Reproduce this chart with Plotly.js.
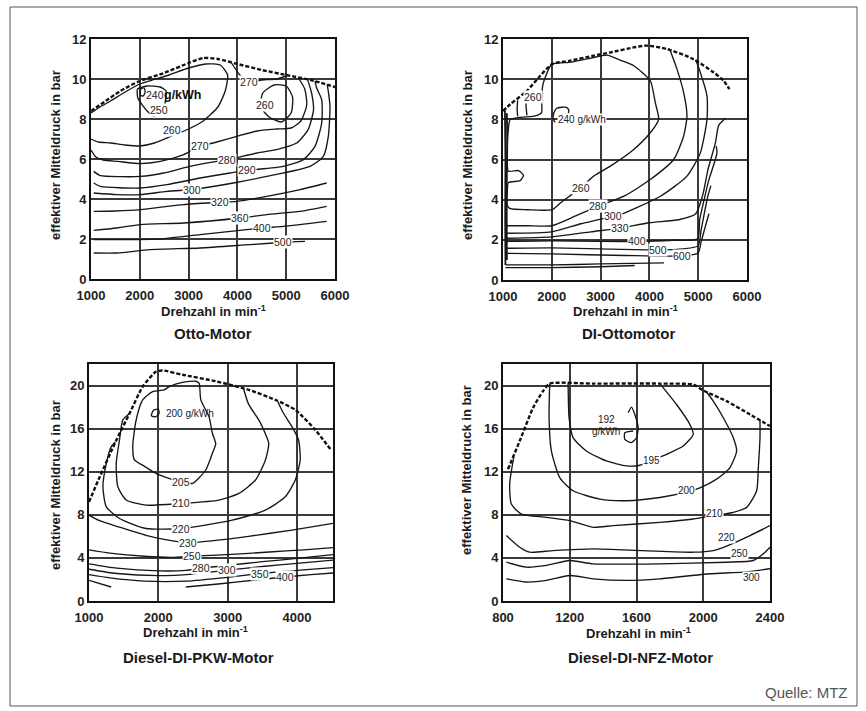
<!DOCTYPE html>
<html><head><meta charset="utf-8">
<script src="https://cdn.plot.ly/plotly-3.0.1.min.js"></script>
<style>html,body{margin:0;padding:0;background:#fff;}#chart{width:866px;height:711px;}</style>
</head><body><div id="chart"></div>
<script>
// ---------- DATA (rpm, bar) ----------
// Otto-Motor
const otto_full = [[1000,8.4],[1300,8.9],[1600,9.4],[2000,9.9],[2500,10.3],[3000,10.8],[3300,11.05],[3600,11.0],[4000,10.75],[4500,10.45],[5000,10.2],[5500,9.95],[6000,9.6]];
const otto_240 = [[2020,9.5],[2090,9.55],[2110,9.35],[2070,9.15],[2010,9.2],[2020,9.5]];
const otto_250 = [[1955,9.5],[1960,9.05],[2150,8.4],[2290,8.15],[2430,8.3],[2500,8.6],[2530,9.0],[2540,9.4],[2420,9.6],[2150,9.65],[1955,9.5]];
const otto_260 = [[1000,8.3],[1150,8.55],[1400,8.9],[1700,9.35],[2000,9.75],[2300,9.98],[2600,10.2],[3000,10.55],[3350,10.75],[3650,10.7],[3800,10.2],[3750,9.4],[3600,8.6],[3300,7.9],[3000,7.5],[2650,7.15],[2300,6.8],[2000,6.65],[1700,6.7],[1400,6.8],[1150,6.85],[1000,7.0]];
const otto_260b = [[4900,7.85],[4650,8.1],[4480,8.6],[4520,9.3],[4750,9.7],[5000,9.65],[5130,9.1],[5100,8.3],[4900,7.85]];
const otto_270a = [[1000,6.45],[1100,6.1],[1250,5.95],[1550,5.88],[2010,5.77],[2420,5.88],[2900,6.22],[3240,6.63],[3580,6.85],[3990,7.13],[4400,7.4],[4800,7.5],[5100,7.55],[5300,7.9],[5420,8.7],[5380,9.5],[5250,10.05]];
const otto_270b = [[3880,10.8],[4050,10.2],[4230,9.85],[4500,9.95],[4800,10.0],[5000,10.15]];
const otto_280 = [[1055,5.38],[1191,5.17],[1600,5.12],[2010,5.13],[2490,5.3],[3030,5.63],[3580,5.88],[3783,5.95],[4400,6.3],[4800,6.47],[5215,6.8],[5450,7.47],[5560,8.47],[5520,9.3],[5440,9.97]];
const otto_290 = [[1055,4.8],[1191,4.63],[2010,4.55],[2555,4.72],[3237,5.05],[3850,5.3],[4192,5.43],[4943,5.63],[5352,5.97],[5590,6.63],[5727,7.8],[5727,8.97],[5625,9.55],[5590,9.9]];
const otto_300 = [[1055,4.3],[1532,4.22],[2010,4.22],[2555,4.38],[3067,4.47],[3305,4.55],[3920,4.8],[4602,5.13],[5488,5.63],[5761,6.13],[5863,7.13],[5897,8.63],[5863,9.38],[5840,9.72]];
const otto_320 = [[1055,3.38],[1500,3.4],[2010,3.47],[2896,3.72],[3647,3.83],[3988,3.88],[4602,4.13],[5284,4.47],[5829,4.8]];
const otto_360 = [[1055,2.43],[1532,2.55],[2010,2.72],[2896,2.8],[4056,3.05],[4602,3.22],[5284,3.38],[5829,3.63]];
const otto_400 = [[1055,1.97],[2351,1.99],[3237,2.22],[4500,2.55],[4943,2.63],[5829,2.88]];
const otto_500 = [[1055,1.3],[1532,1.3],[2214,1.47],[3237,1.55],[4260,1.72],[4943,1.83],[5386,1.88]];
const otto_labels = [[2390,8.45,'250'],[2650,7.45,'260'],[4560,8.7,'260'],[3240,6.63,'270'],[4230,9.85,'270'],[3783,5.95,'280'],[4192,5.43,'290'],[3067,4.47,'300'],[3647,3.83,'320'],[4056,3.05,'360'],[4500,2.55,'400'],[4943,1.83,'500']];

// DI-Ottomotor
const dio_full = [[1000,8.42],[1150,8.75],[1490,9.42],[1765,10.17],[2004,10.75],[2380,10.92],[2860,11.17],[3200,11.33],[3680,11.58],[3950,11.67],[4360,11.5],[4900,11.0],[5320,10.33],[5520,9.92],[5640,9.5]];
const dio_240 = [[2070,7.85],[2030,8.0],[2040,8.3],[2100,8.55],[2300,8.6],[2350,8.45],[2340,8.3]];
const dio_260 = [[2004,10.75],[2400,10.85],[2800,11.05],[3130,11.2],[3400,10.95],[3680,10.67],[4018,9.92],[4121,8.83],[4189,8.0],[4018,7.33],[3680,6.5],[3200,5.67],[2858,5.17],[2592,4.6],[2175,3.83],[2004,3.5],[1500,3.5],[1150,3.55],[1090,3.7],[1090,4.5],[1110,4.85],[1350,4.95],[1420,5.2],[1320,5.45],[1110,5.42],[1090,6.3],[1110,7.5],[1150,8.0],[1663,8.17],[1790,8.33],[1790,9.0],[1820,9.75],[1935,10.5],[2004,10.75]];
const dio_250a = [[1300,8.95],[1290,8.5],[1300,8.15]];
const dio_250b = [[1490,9.42],[1470,8.8],[1490,8.2]];
const dio_280 = [[1080,2.7],[1500,2.7],[2000,2.7],[2500,3.2],[2953,3.67],[3500,4.2],[4018,5.0],[4497,6.0],[4702,7.17],[4770,8.17],[4702,9.33],[4565,10.5],[4430,11.4]];
const dio_300 = [[1080,2.33],[2000,2.4],[2600,2.8],[3260,3.17],[3404,3.25],[4224,4.17],[4770,5.17],[5044,6.33],[5180,8.0],[5180,9.17],[5044,10.33],[4950,10.95]];
const dio_330 = [[1080,2.08],[2000,2.15],[2800,2.4],[3398,2.58],[4000,2.85],[4600,3.0],[4950,3.3],[5100,4.3],[5200,5.5],[5350,6.8],[5420,7.7],[5560,8.05]];
const dio_400 = [[1080,1.92],[2000,1.95],[3000,1.92],[3740,1.92],[4500,1.98],[4989,2.05],[5030,3.0],[5090,3.67],[5220,5.0],[5300,5.6],[5385,6.33],[5370,6.67]];
const dio_500 = [[1080,1.58],[2000,1.6],[3000,1.55],[4183,1.5],[4700,1.55],[5000,1.7],[5060,2.5],[5140,3.5],[5200,4.2],[5260,4.7]];
const dio_600 = [[1080,1.33],[2000,1.3],[3500,1.22],[4662,1.2],[5000,1.35],[5060,1.9],[5150,2.7],[5220,3.3]];
const dio_b1 = [[1050,0.75],[2000,0.75],[3000,0.8],[4300,0.85]];
const dio_b2 = [[1050,0.62],[2000,0.62],[3000,0.66],[3700,0.72]];
const dio_v1 = [[1050,0.75],[1045,3.0],[1050,6.0],[1040,8.45]];
const dio_v2 = [[1080,1.0],[1075,4.0],[1085,7.0],[1080,8.3]];
const dio_labels = [[1620,9.1,'260'],[2592,4.6,'260'],[2953,3.67,'280'],[3260,3.17,'300'],[3398,2.58,'330'],[3740,1.92,'400'],[4183,1.5,'500'],[4662,1.2,'600']];

// Diesel-DI-PKW-Motor
const pkw_full = [[1000,9.2],[1153,11.5],[1392,14.9],[1584,17.4],[1775,19.9],[1967,21.3],[2062,21.4],[2349,21.0],[2828,20.4],[3306,19.6],[3689,18.67],[3976,17.74],[4263,15.9],[4493,14.0]];
const pkw_200 = [[1900,17.2],[1930,17.7],[2000,17.8],[2010,17.4],[1960,17.1],[1900,17.2]];
const pkw_205 = [[2589,20.2],[2613,18.67],[2732,17.1],[2780,15.57],[2828,14.6],[2780,13.71],[2684,12.16],[2493,10.92],[2325,11.07],[2100,11.5],[1967,11.85],[1800,12.5],[1656,13.09],[1631,14.33],[1680,16.8],[1775,18.67],[1919,19.44],[2086,19.6],[2158,19.9],[2349,20.3],[2541,20.4],[2589,20.2]];
const pkw_210 = [[1584,17.4],[1488,16.81],[1440,14.95],[1393,12.78],[1416,10.6],[1537,9.37],[1824,8.9],[2325,9.06],[2876,9.37],[3162,9.99],[3402,11.23],[3545,13.09],[3593,14.64],[3521,15.88],[3449,16.81],[3300,18.3],[3230,19.7]];
const pkw_220 = [[1380,14.75],[1321,14.33],[1250,12.78],[1201,10.6],[1250,8.74],[1440,7.66],[1824,6.73],[2325,6.73],[3066,7.5],[3545,8.44],[3832,9.67],[3976,11.23],[4047,13.09],[4023,14.95],[3927,16.19],[3800,17.5],[3720,18.55]];
const pkw_230 = [[1000,7.97],[1153,7.45],[1440,6.85],[1824,6.1],[2100,5.7],[2421,5.4],[2800,5.6],[3300,6.0],[3927,6.58],[4520,7.2]];
const pkw_250 = [[1000,4.75],[1300,4.45],[1800,4.15],[2200,4.05],[2493,4.16],[3000,4.3],[3600,4.55],[4100,4.75],[4520,4.95]];
const pkw_280 = [[1000,3.45],[1400,3.05],[2000,2.8],[2400,2.85],[2612,3.05],[3000,3.3],[3500,3.65],[4000,3.95],[4520,4.3]];
const pkw_300 = [[1000,2.95],[1400,2.55],[2000,2.35],[2500,2.5],[2994,2.86],[3500,3.2],[4000,3.5],[4520,3.8]];
const pkw_350 = [[1000,2.45],[1300,2.15],[1800,1.85],[2400,1.85],[3000,2.2],[3473,2.55],[4000,2.85],[4520,3.1]];
const pkw_400 = [[2397,1.3],[2900,1.6],[3400,1.95],[3832,2.23],[4200,2.45],[4520,2.6]];
const pkw_400b = [[1000,1.92],[1320,1.3]];
const pkw_labels = [[2325,11.07,'205'],[2325,9.06,'210'],[2325,6.73,'220'],[2421,5.4,'230'],[2493,4.16,'250'],[2612,3.05,'280'],[2994,2.86,'300'],[3473,2.55,'350'],[3832,2.23,'400']];

// Diesel-DI-NFZ-Motor
const nfz_full = [[830,12.23],[900,14.85],[980,17.93],[1040,19.48],[1080,20.18],[1340,20.18],[1740,20.18],[1940,20.09],[2000,19.54],[2140,18.55],[2280,17.32],[2400,16.24]];
const nfz_192 = [[1550,17.47],[1570,18.0],[1590,17.32],[1610,16.09],[1600,15.16],[1570,14.7],[1530,15.0],[1530,15.62],[1580,15.78]];
const nfz_195 = [[1190,20.18],[1192,18.5],[1196,17.0],[1220,15.16],[1300,13.93],[1420,13.0],[1540,12.54],[1620,12.6],[1700,13.1],[1780,13.62],[1880,14.39],[1940,15.47],[1920,16.39],[1840,18.24],[1740,20.18]];
const nfz_200 = [[1080,20.18],[1076,17.0],[1090,13.93],[1140,11.46],[1220,10.23],[1380,9.46],[1540,9.31],[1740,9.61],[1900,10.1],[1980,10.5],[2080,11.31],[2160,12.39],[2200,13.93],[2180,15.16],[2120,17.01],[2060,18.55],[2020,19.4]];
const nfz_210 = [[865,13.4],[840,10.85],[850,9.0],[910,8.07],[1060,7.77],[1200,7.46],[1340,6.84],[1460,7.0],[1740,7.3],[1940,7.61],[2070,7.95],[2180,8.23],[2260,8.69],[2320,10.23],[2330,12.39],[2340,15.16],[2340,16.8]];
const nfz_220 = [[820,6.07],[900,4.99],[960,4.53],[1100,4.68],[1340,4.84],[1640,4.68],[1940,4.53],[2060,4.68],[2140,5.1],[2280,6.07],[2400,7.0]];
const nfz_250 = [[820,3.6],[940,3.14],[1060,3.3],[1200,3.76],[1340,3.45],[1740,3.45],[2140,3.6],[2300,3.76],[2360,4.38],[2400,4.99]];
const nfz_300 = [[820,2.06],[940,1.76],[1060,1.91],[1200,2.37],[1340,2.06],[1540,1.91],[1740,2.06],[2040,2.53],[2240,2.68],[2400,2.99]];
const nfz_labels = [[1690,13.0,'195'],[1900,10.3,'200'],[2070,8.1,'210'],[2140,5.9,'220'],[2220,4.38,'250'],[2290,2.22,'300']];

// ticks
const ottoTicksX = [1000,2000,3000,4000,5000,6000];
const ottoTicksY = [0,2,4,6,8,10,12];
const pkwTicksX = [1000,2000,3000,4000];
const nfzTicksX = [800,1200,1600,2000,2400];
const dieselTicksY = [0,4,8,12,16,20];

// ---------- BUILD ----------
const W = 866, H = 711;
const FONT = 'Liberation Sans, Arial, sans-serif';
const px = x => x / W, py = y => 1 - y / H;
const traces = [];
function line(pts, ax, opt) {
  opt = opt || {};
  traces.push({
    x: pts.map(p => p[0]), y: pts.map(p => p[1]),
    xaxis: 'x' + ax, yaxis: 'y' + ax, type: 'scatter', mode: 'lines',
    hoverinfo: 'skip', showlegend: false,
    line: {color: opt.color || '#161616', width: opt.width || 1.35, dash: opt.dash || 'solid',
           shape: 'spline', smoothing: 0.6}
  });
}
const full = {width: 2.4, dash: '4px,2px', color: '#111'};
[otto_240, otto_250, otto_260, otto_260b, otto_270a, otto_270b, otto_280, otto_290, otto_300, otto_320, otto_360, otto_400, otto_500].forEach(c => line(c, ''));
line(otto_full, '', full);
[dio_240, dio_260, dio_250a, dio_250b, dio_280, dio_300, dio_330, dio_400, dio_500, dio_600, dio_b1, dio_b2].forEach(c => line(c, '2'));
line(dio_v1, '2', {width: 1.8}); line(dio_v2, '2', {width: 1.8});
line(dio_full, '2', full);
[pkw_200, pkw_205, pkw_210, pkw_220, pkw_230, pkw_250, pkw_280, pkw_300, pkw_350, pkw_400, pkw_400b].forEach(c => line(c, '3'));
line(pkw_full, '3', full);
[nfz_192, nfz_195, nfz_200, nfz_210, nfz_220, nfz_250, nfz_300].forEach(c => line(c, '4'));
line(nfz_full, '4', full);

function axes(xd, yd, xr, yr, xt, yt, xanchor, yanchor) {
  const common = {showline: true, linecolor: '#111', linewidth: 2, mirror: true, showgrid: true,
    gridcolor: '#3a3a3a', gridwidth: 2, zeroline: false, ticks: '', fixedrange: true,
    tickfont: {family: FONT, size: 13, color: '#222'}};
  return [
    Object.assign({}, common, {domain: [px(xd[0]), px(xd[1])], range: xr, tickmode: 'array', tickvals: xt,
      ticktext: xt.map(v => '<b>' + v + '</b>'), anchor: yanchor, ticklabelstandoff: 3}),
    Object.assign({}, common, {domain: [py(yd[1]), py(yd[0])], range: yr, tickmode: 'array', tickvals: yt,
      ticktext: yt.map(v => '<b>' + v + '</b>'), anchor: xanchor})
  ];
}
const [xa1, ya1] = axes([91, 335], [39, 279], [1000, 6000], [0, 12], ottoTicksX, ottoTicksY, 'x', 'y');
const [xa2, ya2] = axes([503, 747], [39, 280], [1000, 6000], [0, 12], ottoTicksX, ottoTicksY, 'x2', 'y2');
const [xa3, ya3] = axes([89, 333], [364, 601], [1000, 4520], [0, 22], pkwTicksX, dieselTicksY, 'x3', 'y3');
const [xa4, ya4] = axes([503, 770], [364, 601], [800, 2400], [0, 22], nfzTicksX, dieselTicksY, 'x4', 'y4');

const ann = [];
function lab(list, ax, size) {
  list.forEach(l => ann.push({x: l[0], y: l[1], xref: 'x' + ax, yref: 'y' + ax, text: l[2], showarrow: false,
    font: {family: FONT, size: size || 10.5, color: '#222'}, bgcolor: '#fff', borderpad: 0}));
}
lab(otto_labels, ''); lab(dio_labels, '2'); lab(pkw_labels, '3'); lab(nfz_labels, '4', 10);
// special labels
ann.push({x: 2310, y: 9.2, xref: 'x', yref: 'y', text: '240', showarrow: false, font: {family: FONT, size: 10.5, color: '#222'}});
ann.push({x: 2880, y: 9.2, xref: 'x', yref: 'y', text: '<b>g/kWh</b>', showarrow: false, font: {family: FONT, size: 12.5, color: '#111'}});
ann.push({x: 2110, y: 8.0, xref: 'x2', yref: 'y2', text: '240 g/kWh', xanchor: 'left', showarrow: false, font: {family: FONT, size: 10, color: '#222'}, bgcolor: '#fff', borderpad: 0});
ann.push({x: 2086, y: 17.4, xref: 'x3', yref: 'y3', text: '200 g/kWh', xanchor: 'left', showarrow: false, font: {family: FONT, size: 10, color: '#222'}});
ann.push({x: 1420, y: 16.86, xref: 'x4', yref: 'y4', text: '192', showarrow: false, font: {family: FONT, size: 10, color: '#222'}});
ann.push({x: 1420, y: 15.78, xref: 'x4', yref: 'y4', text: 'g/kWh', showarrow: false, font: {family: FONT, size: 10, color: '#222'}});

function paperText(x, y, text, size, opts) {
  ann.push(Object.assign({x: px(x), y: py(y), xref: 'paper', yref: 'paper', text: text, showarrow: false,
    font: {family: FONT, size: size, color: '#1a1a1a'}, xanchor: 'center', yanchor: 'middle'}, opts || {}));
}
const ytitle = '<b>effektiver Mitteldruck in bar</b>';
const xtitle = '<b>Drehzahl in min<sup>-1</sup></b>';
paperText(55, 155, ytitle, 13, {textangle: -90});
paperText(467, 155, ytitle, 13, {textangle: -90});
paperText(55, 485, ytitle, 13, {textangle: -90});
paperText(467, 470, ytitle, 13, {textangle: -90});
paperText(213, 311, xtitle, 13);
paperText(625, 311, xtitle, 13);
paperText(195, 632, xtitle, 13);
paperText(638, 633, xtitle, 13);
paperText(213, 333, '<b>Otto-Motor</b>', 15);
paperText(628, 333, '<b>DI-Ottomotor</b>', 15);
paperText(198, 657, '<b>Diesel-DI-PKW-Motor</b>', 15);
paperText(640, 657, '<b>Diesel-DI-NFZ-Motor</b>', 15);
paperText(850, 692, 'Quelle: MTZ', 15, {xanchor: 'right', font: {family: FONT, size: 15, color: '#555'}});

const layout = {
  width: W, height: H, margin: {l: 0, r: 0, t: 0, b: 0}, paper_bgcolor: '#fff', plot_bgcolor: '#fff',
  showlegend: false, font: {family: FONT},
  xaxis: xa1, yaxis: ya1, xaxis2: xa2, yaxis2: ya2, xaxis3: xa3, yaxis3: ya3, xaxis4: xa4, yaxis4: ya4,
  annotations: ann,
  shapes: [{type: 'rect', xref: 'paper', yref: 'paper', x0: px(10), x1: px(857), y0: py(706), y1: py(7),
    line: {color: '#555', width: 1}, fillcolor: 'rgba(0,0,0,0)'}]
};
Plotly.newPlot('chart', traces, layout, {displayModeBar: false, staticPlot: true});
</script></body></html>
